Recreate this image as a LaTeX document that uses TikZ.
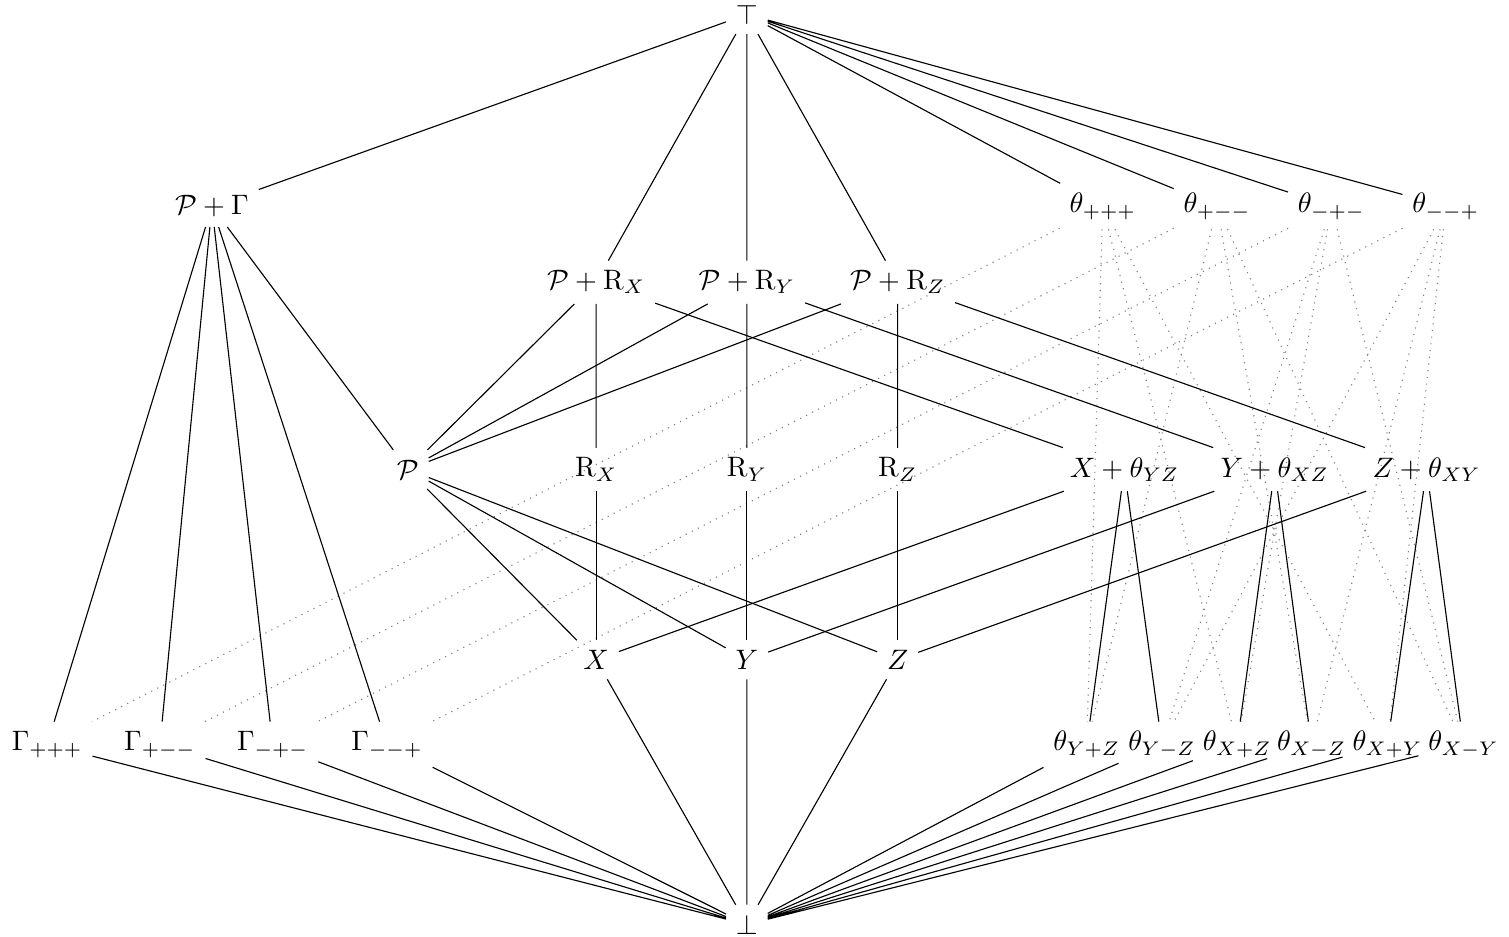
\documentclass[tikz,border=0pt]{standalone}
\usepackage{amsmath}
\usepackage{amssymb}
\begin{document}
\begin{tikzpicture}[weak/.style={dotted,gray}]
\useasboundingbox (-9.34,-0.15) rectangle (9.53,11.56);
\node (top) at (0,11.38) {$\top$};
\node (PG) at (-6.69,8.98) {$\mathcal{P}+\Gamma$};
\node (tppp) at (4.45,8.98) {$\theta_{+++}$};
\node (tpmm) at (5.88,8.98) {$\theta_{+--}$};
\node (tmpm) at (7.31,8.98) {$\theta_{-+-}$};
\node (tmmp) at (8.74,8.98) {$\theta_{--+}$};
\node (PRX) at (-1.885,8.03) {$\mathcal{P}+\mathrm{R}_X$};
\node (PRY) at (0,8.03) {$\mathcal{P}+\mathrm{R}_Y$};
\node (PRZ) at (1.885,8.03) {$\mathcal{P}+\mathrm{R}_Z$};
\node (P) at (-4.24,5.69) {$\mathcal{P}$};
\node (RX) at (-1.885,5.69) {$\mathrm{R}_X$};
\node (RY) at (0,5.69) {$\mathrm{R}_Y$};
\node (RZ) at (1.885,5.69) {$\mathrm{R}_Z$};
\node (XT) at (4.72,5.69) {$X+\theta_{YZ}$};
\node (YT) at (6.6,5.69) {$Y+\theta_{XZ}$};
\node (ZT) at (8.5,5.69) {$Z+\theta_{XY}$};
\node (X) at (-1.885,3.31) {$X$};
\node (Y) at (0,3.31) {$Y$};
\node (Z) at (1.885,3.31) {$Z$};
\node (Gppp) at (-8.75,2.25) {$\Gamma_{+++}$};
\node (Gpmm) at (-7.34,2.25) {$\Gamma_{+--}$};
\node (Gmpm) at (-5.93,2.25) {$\Gamma_{-+-}$};
\node (Gmmp) at (-4.5,2.25) {$\Gamma_{--+}$};
\node (tYpZ) at (4.25,2.25) {$\theta_{Y+Z}$};
\node (tYmZ) at (5.19,2.25) {$\theta_{Y-Z}$};
\node (tXpZ) at (6.13,2.25) {$\theta_{X+Z}$};
\node (tXmZ) at (7.06,2.25) {$\theta_{X-Z}$};
\node (tXpY) at (8.01,2.25) {$\theta_{X+Y}$};
\node (tXmY) at (8.96,2.25) {$\theta_{X-Y}$};
\node (bot) at (0,0) {$\bot$};
\draw[weak] (tppp) -- (Gppp) (tpmm) -- (Gpmm) (tmpm) -- (Gmpm) (tmmp) -- (Gmmp);
\draw[weak] (tppp) -- (tYpZ) (tppp) -- (tXpZ) (tppp) -- (tXpY);
\draw[weak] (tpmm) -- (tYpZ) (tpmm) -- (tXmZ) (tpmm) -- (tXmY);
\draw[weak] (tmpm) -- (tYmZ) (tmpm) -- (tXpZ) (tmpm) -- (tXmY);
\draw[weak] (tmmp) -- (tYmZ) (tmmp) -- (tXmZ) (tmmp) -- (tXpY);
\draw (top) -- (PG) (top) -- (PRX) (top) -- (PRY) (top) -- (PRZ);
\draw (top) -- (tppp) (top) -- (tpmm) (top) -- (tmpm) (top) -- (tmmp);
\draw (PG) -- (Gppp) (PG) -- (Gpmm) (PG) -- (Gmpm) (PG) -- (Gmmp) (PG) -- (P);
\draw (PRX) -- (P) (PRX) -- (RX) (PRX) -- (XT);
\draw (PRY) -- (P) (PRY) -- (RY) (PRY) -- (YT);
\draw (PRZ) -- (P) (PRZ) -- (RZ) (PRZ) -- (ZT);
\draw (P) -- (X) (P) -- (Y) (P) -- (Z);
\draw (RX) -- (X) (RY) -- (Y) (RZ) -- (Z);
\draw (XT) -- (X) (YT) -- (Y) (ZT) -- (Z);
\draw (XT) -- (tYpZ) (XT) -- (tYmZ);
\draw (YT) -- (tXpZ) (YT) -- (tXmZ);
\draw (ZT) -- (tXpY) (ZT) -- (tXmY);
\draw (X) -- (bot) (Y) -- (bot) (Z) -- (bot);
\draw (Gppp) -- (bot) (Gpmm) -- (bot) (Gmpm) -- (bot) (Gmmp) -- (bot);
\draw (tYpZ) -- (bot) (tYmZ) -- (bot) (tXpZ) -- (bot) (tXmZ) -- (bot) (tXpY) -- (bot) (tXmY) -- (bot);
\end{tikzpicture}
\end{document}
